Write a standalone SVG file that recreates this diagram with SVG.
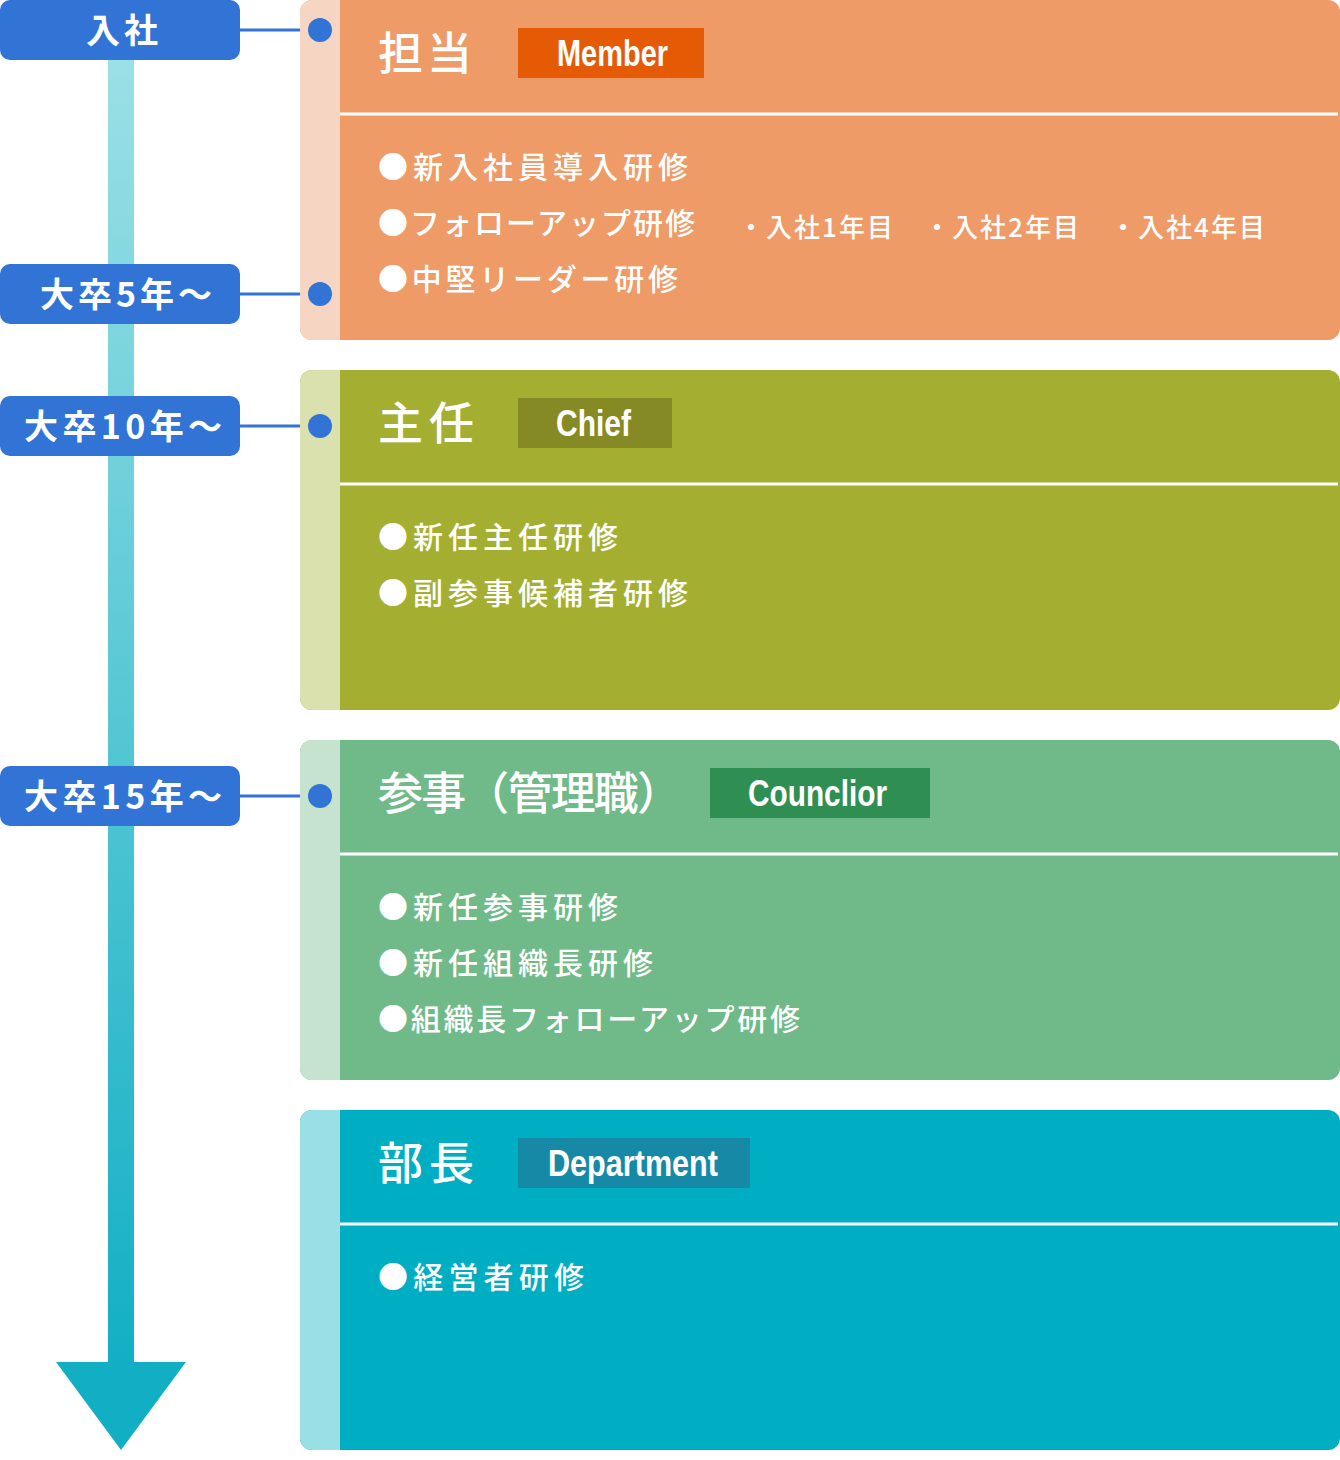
<svg xmlns="http://www.w3.org/2000/svg" width="1340" height="1460" viewBox="0 0 1340 1460">
<defs>
<linearGradient id="bar" x1="0" y1="0" x2="0" y2="1">
<stop offset="0" stop-color="#9BE0E5"/>
<stop offset="1" stop-color="#12AFC4"/>
</linearGradient>
<style>
.lbl{fill:#3273D6}
.lt{font-family:"Noto Sans CJK JP","Noto Sans",sans-serif;font-weight:700;font-size:34px;fill:#fff}
.conn{stroke:#3273D6;stroke-width:3}
.dot{fill:#3273D6}
.title{font-family:"Noto Sans CJK JP",sans-serif;font-weight:500;font-size:45px;fill:#fff}
.badge{font-family:"Liberation Sans","DejaVu Sans",sans-serif;font-weight:700;font-size:37px;fill:#fff}
.item{font-family:"Noto Sans CJK JP",sans-serif;font-weight:500;font-size:30px;fill:#fff}
.sub{font-family:"Noto Sans CJK JP",sans-serif;font-weight:500;font-size:26px;fill:#fff}
.sep{stroke:#fff;stroke-width:3}
</style>
</defs>

<g id="timeline">
<rect x="108" y="55" width="26" height="1310" fill="url(#bar)"/>
<polygon points="56,1362 186,1362 121,1450" fill="#12AFC4"/>
</g>

<g id="connectors">
<line class="conn" x1="238" y1="30" x2="320" y2="30"/>
<line class="conn" x1="238" y1="294" x2="320" y2="294"/>
<line class="conn" x1="238" y1="426" x2="320" y2="426"/>
<line class="conn" x1="238" y1="796" x2="320" y2="796"/>
</g>

<g id="card-member">
<rect x="300" y="0" width="1040" height="340" rx="12" fill="#EE9B68"/>
<path d="M312,0 H340 V340 H312 A12,12 0 0 1 300,328 V12 A12,12 0 0 1 312,0 Z" fill="#F6D5C3"/>
<line class="sep" x1="340" y1="114" x2="1338" y2="114"/>
<text class="title" x="378" y="70" textLength="94">担当</text>
<rect x="518" y="28" width="186" height="50" fill="#E55B05"/>
<text class="badge" x="557" y="66" textLength="111" lengthAdjust="spacingAndGlyphs">Member</text>
<text class="item" x="378" y="178" textLength="310">●新入社員導入研修</text>
<text class="item" x="378" y="234" textLength="317">●フォローアップ研修</text>
<text class="item" x="378" y="290" textLength="300">●中堅リーダー研修</text>
<text class="sub" x="738" y="237" textLength="155">・入社1年目</text>
<text class="sub" x="924" y="237" textLength="155">・入社2年目</text>
<text class="sub" x="1110" y="237" textLength="155">・入社4年目</text>
</g>

<g id="card-chief">
<rect x="300" y="370" width="1040" height="340" rx="12" fill="#A4AF31"/>
<path d="M312,370 H340 V710 H312 A12,12 0 0 1 300,698 V382 A12,12 0 0 1 312,370 Z" fill="#DAE0AE"/>
<line class="sep" x1="340" y1="484" x2="1338" y2="484"/>
<text class="title" x="378" y="440" textLength="96">主任</text>
<rect x="518" y="398" width="154" height="50" fill="#868A24"/>
<text class="badge" x="556" y="436" textLength="75" lengthAdjust="spacingAndGlyphs">Chief</text>
<text class="item" x="378" y="548" textLength="240">●新任主任研修</text>
<text class="item" x="378" y="604" textLength="310">●副参事候補者研修</text>
</g>

<g id="card-councilor">
<rect x="300" y="740" width="1040" height="340" rx="12" fill="#6FBA88"/>
<path d="M312,740 H340 V1080 H312 A12,12 0 0 1 300,1068 V752 A12,12 0 0 1 312,740 Z" fill="#C5E3CF"/>
<line class="sep" x1="340" y1="854" x2="1338" y2="854"/>
<text class="title" x="378" y="810" textLength="304">参事（管理職）</text>
<rect x="710" y="768" width="220" height="50" fill="#2F8F52"/>
<text class="badge" x="748" y="806" textLength="139" lengthAdjust="spacingAndGlyphs">Counclior</text>
<text class="item" x="378" y="918" textLength="240">●新任参事研修</text>
<text class="item" x="378" y="974" textLength="275">●新任組織長研修</text>
<text class="item" x="378" y="1030" textLength="422">●組織長フォローアップ研修</text>
</g>

<g id="card-department">
<rect x="300" y="1110" width="1040" height="340" rx="12" fill="#00AEC4"/>
<path d="M312,1110 H340 V1450 H312 A12,12 0 0 1 300,1438 V1122 A12,12 0 0 1 312,1110 Z" fill="#9ADEE6"/>
<line class="sep" x1="340" y1="1224" x2="1338" y2="1224"/>
<text class="title" x="378" y="1180" textLength="96">部長</text>
<rect x="518" y="1138" width="232" height="50" fill="#1589A6"/>
<text class="badge" x="548" y="1176" textLength="170" lengthAdjust="spacingAndGlyphs">Department</text>
<text class="item" x="378" y="1288" textLength="206">●経営者研修</text>
</g>

<g id="label-nyusha">
<rect class="lbl" x="0" y="0" width="240" height="60" rx="10"/>
<text class="lt" x="86" y="43" textLength="72">入社</text>
</g>
<g id="label-5">
<rect class="lbl" x="0" y="264" width="240" height="60" rx="10"/>
<text class="lt" x="40" y="307" textLength="172">大卒5年〜</text>
</g>
<g id="label-10">
<rect class="lbl" x="0" y="396" width="240" height="60" rx="10"/>
<text class="lt" x="24" y="439" textLength="198">大卒10年〜</text>
</g>
<g id="label-15">
<rect class="lbl" x="0" y="766" width="240" height="60" rx="10"/>
<text class="lt" x="24" y="809" textLength="198">大卒15年〜</text>
</g>

<g id="dots">
<circle class="dot" cx="320" cy="30" r="12"/>
<circle class="dot" cx="320" cy="294" r="12"/>
<circle class="dot" cx="320" cy="426" r="12"/>
<circle class="dot" cx="320" cy="796" r="12"/>
</g>
</svg>
